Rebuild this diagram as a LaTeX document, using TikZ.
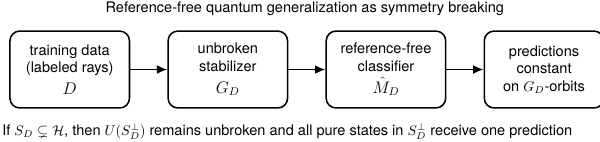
\documentclass[tikz,border=0pt]{standalone}
\usepackage{amsmath}
\usepackage{amssymb}
\usepackage{fontspec}
\setmainfont{TeX Gyre Heros}
\usetikzlibrary{positioning,arrows.meta}

\begin{document}
\begin{tikzpicture}[
      font=\fontsize{10.4}{12.5}\selectfont,
      node distance=0.93cm,
      box/.style={rounded corners=7pt, draw=black, line width=1.1pt, align=center, minimum width=3.0cm, minimum height=1.93cm, inner sep=2pt},
      arrow/.style={-{Latex[length=2.6mm,width=2.2mm]}, line width=1.1pt}
    ]
      \useasboundingbox (-1.75,-1.815) rectangle (13.31,1.745);
      \node[box] (data) {training data\\ (labeled rays)\\[3pt] {\large $D$}};
      \node[box, right=of data] (stab) {unbroken\\ stabilizer\\[3pt] {\large $G_D$}};
      \node[box, right=of stab] (clf) {reference-free\\ classifier\\[3pt] {\large $\hat{M}_D$}};
      \node[box, right=of clf] (pred) {predictions\\ constant\\ on $G_D$-orbits};
      \draw[arrow] (data) -- (stab);
      \draw[arrow] (stab) -- (clf);
      \draw[arrow] (clf) -- (pred);
      \node (title) at (5.9,1.515) {Reference-free quantum generalization as symmetry breaking};
      \node[anchor=west, inner sep=0pt] (note) at (-1.7,-1.565) {If $S_D \subsetneq \mathcal{H}$, then $U(S_D^{\perp})$ remains unbroken and all pure states in $S_D^{\perp}$ receive one prediction};
    \end{tikzpicture}
\end{document}
